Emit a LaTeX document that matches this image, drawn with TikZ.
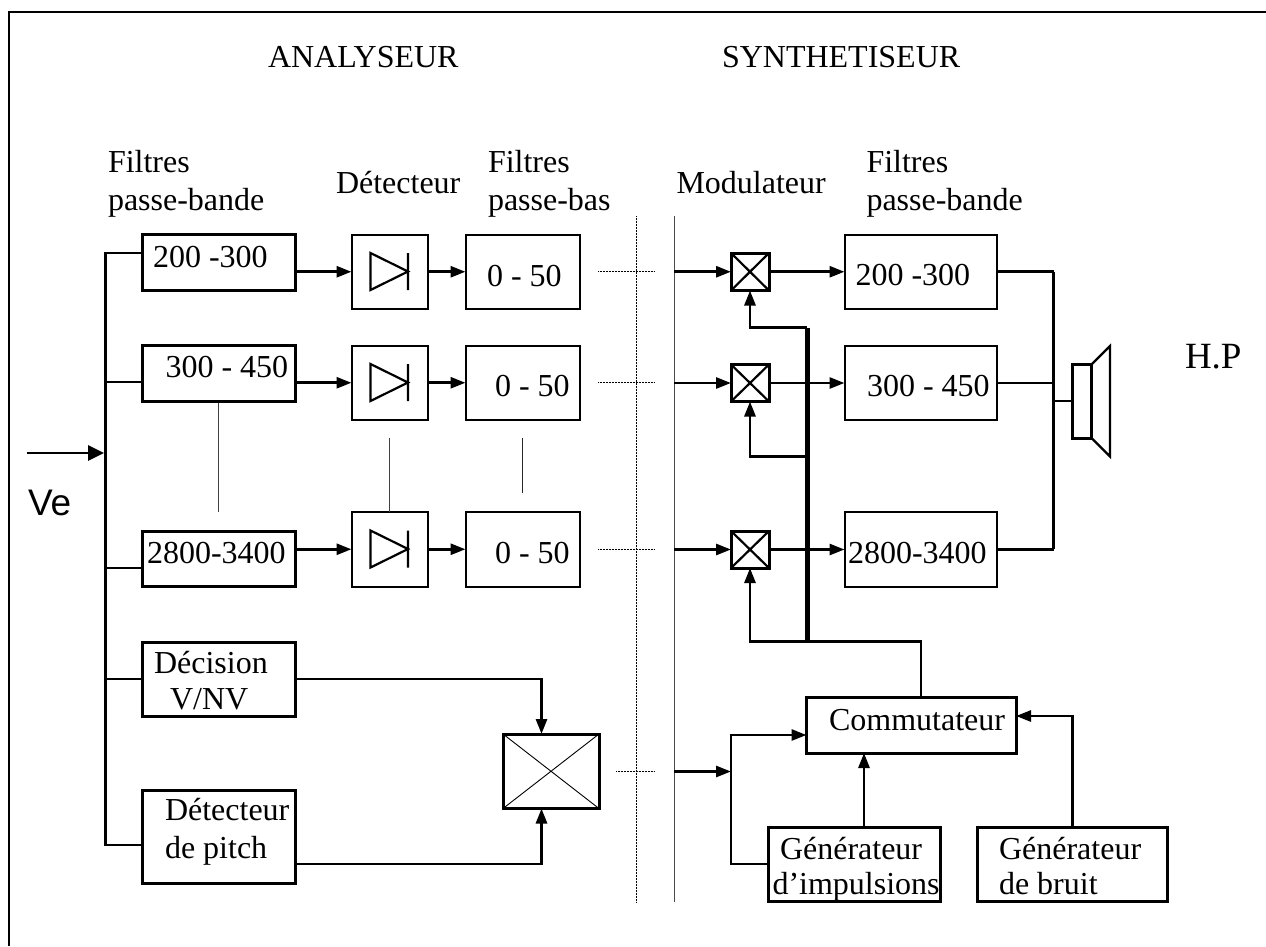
\documentclass[tikz,border=0pt]{standalone}
\usepackage{fontspec}
\setmainfont{Liberation Serif}
\newfontfamily\arialfont{Liberation Sans}
\usetikzlibrary{arrows.meta,calc}
\newcommand{\blockbox}[6][]{%
  \node[blockbox,#1,minimum width={(#5-#3)*1pt},minimum height={(#6-#4)*1pt}] (#2) at ({(#3+#5)/2},{(#4+#6)/2}) {};}
\tikzset{
  blockbox/.style={draw=black,line width=2pt,rectangle,inner sep=0pt,outer sep=0pt,fill=white},
  heavybox/.style={line width=3pt},
  lbl/.style={anchor=base west,inner sep=0pt,outer sep=0pt,font=\fontsize{32}{38}\selectfont},
  conn/.style={draw=black,line width=2.8pt,line join=miter},
  arr/.style={conn,-{Triangle[length=15pt,width=11pt]}},
  bigarr/.style={conn,-{Triangle[length=16pt,width=15pt]}},
  thick bus/.style={draw=black,line width=5pt},
  thinline/.style={draw=black!75,line width=0.9pt},
  dotline/.style={draw=black,line width=1pt,dash pattern=on 1pt off 0.5pt},
  sym/.style={draw=black,line width=2.2pt},
}
\begin{document}
\begin{tikzpicture}[x=1pt,y=-1pt]
\useasboundingbox (0,0) rectangle (1266,946);
% frame
\coordinate (fa) at (9,946);
\coordinate (fb) at (9,11.5);
\coordinate (fc) at (1266,11.5);
\draw[draw=black,line width=2pt] (fa) -- (fb) -- (fc);
% dividers
\coordinate (v1t) at (636,216); \coordinate (v1b) at (636,902);
\coordinate (v2t) at (674,216); \coordinate (v2b) at (674,902);
\draw[dotline] (v1t) -- (v1b);
\draw[thinline,draw=black!70] (v2t) -- (v2b);
% boxes left
\blockbox[heavybox]{fa1}{142.5}{234.5}{295}{290.5}
\blockbox[heavybox]{fa2}{142.5}{345.5}{295}{401.5}
\blockbox[heavybox]{fa3}{142.5}{531}{295}{586.5}
\blockbox[heavybox]{dec}{142.5}{642}{295}{716.5}
\blockbox[heavybox]{pit}{142.5}{790}{295}{883}
\blockbox{d1}{351.5}{234.5}{428}{309}
\blockbox{d2}{351.5}{345.5}{428}{420}
\blockbox{d3}{351.5}{512}{428}{586.5}
\blockbox{l1}{465.5}{234.5}{579.5}{309}
\blockbox{l2}{465.5}{345.5}{579.5}{420}
\blockbox{l3}{465.5}{512}{579.5}{586.5}
\blockbox[heavybox]{x0}{503}{734}{599}{808.5}
\draw[thinline,draw=black] (x0.north west) -- (x0.south east) (x0.north east) -- (x0.south west);
% boxes right
\blockbox[heavybox]{m1}{731}{253}{769}{290.5}
\blockbox[heavybox]{m2}{731}{364.5}{769}{401.5}
\blockbox[heavybox]{m3}{731}{531}{769}{568}
\foreach \m in {m1,m2,m3}{\draw[sym] (\m.north west) -- (\m.south east) (\m.north east) -- (\m.south west);}
\blockbox{g1}{844.5}{234.5}{996.5}{309}
\blockbox{g2}{844.5}{345.5}{996.5}{420}
\blockbox{g3}{844.5}{512}{996.5}{586.5}
\blockbox[heavybox]{com}{806.5}{697}{1016}{753}
\blockbox[heavybox]{gi}{768.5}{827}{940}{901.5}
\blockbox[heavybox]{gb}{977}{827}{1167.5}{901.5}
% speaker
\blockbox[heavybox]{sp}{1072}{364.5}{1091.5}{438}
\coordinate (c1) at (1110,346);
\coordinate (c2) at (1110,456.5);
\draw[sym] (sp.north east) -- (c1) -- (c2) -- (sp.south east);
% diodes
\foreach \r/\y in {1/271.5,2/382.5,3/549}{
  \coordinate (da\r) at (370.5,\y-18.5);
  \coordinate (db\r) at (370.5,\y+18.5);
  \coordinate (dc\r) at (408,\y);
  \coordinate (dd\r) at (408,\y-18.5);
  \coordinate (de\r) at (408,\y+18.5);
  \draw[sym,line join=miter] (da\r) -- (dc\r) -- (db\r) -- cycle (dd\r) -- (de\r);
}
% input
\coordinate (ve) at (26.5,453);
\coordinate (b0) at (105.5,253);
\coordinate (b1) at (105.5,845);
\coordinate (bm) at (104,453);
\draw[bigarr] (ve) -- (bm);
\draw[conn] (fa1.west |- b0) -- (b0) -- (b1) -- (pit.west |- b1);
\foreach \n/\y in {fa2/382,fa3/568,dec/679}{
  \coordinate (s\n) at (105.5,\y);
  \draw[conn] (s\n) -- (\n.west |- s\n);
}
% rows
\foreach \r in {1,2,3}{
  \draw[arr] (fa\r.east |- d\r.west) -- (d\r.west);
  \draw[arr] (d\r.east) -- (l\r.west);
  \draw[dotline] ($(l\r.east)+(18.5,0)$) -- ($(l\r.east)+(75.5,0)$);
  \draw[arr] (v2t |- m\r.west) -- (m\r.west);
  \draw[arr] (m\r.east) -- (g\r.west |- m\r.east);
  \draw[conn] (g\r.east |- m\r.east) -- (1053.5,0 |- m\r.east);
}
% right bus
\coordinate (rt) at (1053.5,271.5);
\coordinate (rb) at (1053.5,549);
\coordinate (rs) at (1053.5,401);
\draw[conn] (rt) -- (rb);
\draw[conn] (rs) -- (sp.west |- rs);
% decision and pitch outputs
\coordinate (dk) at (541.5,679);
\coordinate (pk) at (541.5,864);
\draw[arr] (dec.east |- dk) -- (dk) -- (dk |- x0.north);
\draw[arr] (pit.east |- pk) -- (pk) -- (pk |- x0.south);
\coordinate (xd1) at (616,771.5);
\coordinate (xd2) at (655,771.5);
\draw[dotline] (xd1) -- (xd2);
% envelope bus
\coordinate (bt) at (807,327.5);
\coordinate (bb) at (807,641.5);
\coordinate (bm2) at (807,456.5);
\coordinate (tap1) at (750,327.5);
\coordinate (tap2) at (750,456.5);
\coordinate (tap3) at (750,641.5);
\coordinate (ct) at (921,641.5);
\draw[thick bus] (bt) -- (bb);
\draw[arr] (com.north -| ct) -- (ct) -- (tap3) -- (tap3 |- m3.south);
\draw[arr] (bm2) -- (tap2) -- (tap2 |- m2.south);
\draw[arr] (bt) -- (tap1) -- (tap1 |- m1.south);
% switch inputs
\coordinate (sa) at (674,771.5);
\coordinate (sb) at (731,771.5);
\coordinate (sc) at (731,735);
\coordinate (sd) at (731,864);
\draw[arr] (sa) -- (sb);
\draw[arr] (gi.west |- sd) -- (sd) -- (sc) -- (com.west |- sc);
\coordinate (gx) at (864,753);
\draw[arr] (gi.north -| gx) -- (gx);
\coordinate (nk) at (1072.8,716);
\draw[arr] (gb.north -| nk) -- (nk) -- (com.east |- nk);
% links between rows
\coordinate (j1a) at (218.5,403); \coordinate (j1b) at (218.5,512);
\coordinate (j2a) at (389.5,438); \coordinate (j2b) at (389.5,512);
\coordinate (j3a) at (522.5,438); \coordinate (j3b) at (522.5,493);
\draw[thinline] (j1a) -- (j1b);
\draw[thinline] (j2a) -- (j2b);
\draw[thinline,draw=black!85] (j3a) -- (j3b);
% labels
\node[lbl] (t1) at (268,67) {ANALYSEUR};
\node[lbl] (t2) at (722,67) {SYNTHETISEUR};
\node[lbl] (h1) at (108,172.5) {Filtres};
\node[lbl] (h2) at (108,210) {passe-bande};
\node[lbl] (h3) at (336,193) {Détecteur};
\node[lbl] (h4) at (488,172.5) {Filtres};
\node[lbl] (h5) at (488,210) {passe-bas};
\node[lbl] (h6) at (676.5,193) {Modulateur};
\node[lbl] (h7) at (866.5,172.5) {Filtres};
\node[lbl] (h8) at (866.5,210) {passe-bande};
\node[lbl] (q1) at (153,267) {200 -300};
\node[lbl] (q2) at (165.5,377) {300 - 450};
\node[lbl] (q3) at (147,563) {2800-3400};
\node[lbl] (w1) at (487,286.5) {0 - 50};
\node[lbl] (w2) at (495,396.5) {0 - 50};
\node[lbl] (w3) at (495,563) {0 - 50};
\node[lbl] (e1) at (154,673) {Décision};
\node[lbl] (e2) at (170,709) {V/NV};
\node[lbl] (p1) at (165,820.5) {Détecteur};
\node[lbl] (p2) at (165,858) {de pitch};
\node[lbl] (r1) at (855.5,285) {200 -300};
\node[lbl] (r2) at (867,396.5) {300 - 450};
\node[lbl] (r3) at (848,563) {2800-3400};
\node[lbl] (cm) at (829,730.5) {Commutateur};
\node[lbl] (gi1) at (780,859) {Générateur};
\node[lbl] (gi2) at (772.5,894) {d’impulsions};
\node[lbl] (gb1) at (999,859) {Générateur};
\node[lbl] (gb2) at (999,894) {de bruit};
\node[lbl,font=\fontsize{37}{42}\selectfont] (hp) at (1185,368) {H.P};
\node[lbl,font=\fontsize{37}{42}\arialfont\selectfont] (vel) at (28,515) {Ve};
\end{tikzpicture}
\end{document}
